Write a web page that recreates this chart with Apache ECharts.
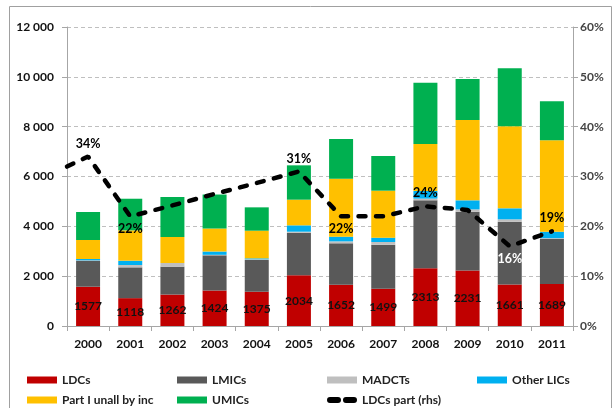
<!DOCTYPE html>
<html>
<head>
<meta charset="utf-8">
<script src="https://cdn.jsdelivr.net/npm/echarts@6/dist/echarts.min.js"></script>
<style>
  html, body { margin: 0; padding: 0; background: #fff; }
  #chart { width: 615px; height: 408px; }
</style>
</head>
<body>
<div id="chart"></div>
<script>
const years = ['2000', '2001', '2002', '2003', '2004', '2005', '2006', '2007', '2008', '2009', '2010', '2011']

// stacked values, bottom to top
const ldcs = [1577, 1118, 1262, 1424, 1375, 2034, 1652, 1499, 2313, 2231, 1661, 1689]
const lmics = [1043, 1236, 1119, 1413, 1273, 1711, 1665, 1765, 2730, 2357, 2525, 1816]
const madcts = [15, 94, 147, 20, 30, 40, 80, 107, 70, 93, 95, 20]
const otherLics = [54, 172, 0, 133, 38, 255, 188, 174, 304, 362, 441, 260]
const partUnall = [762, 1220, 1043, 922, 1109, 1030, 2327, 1886, 1886, 3223, 3291, 3666]
const umics = [1124, 1268, 1606, 1365, 937, 1378, 1592, 1391, 2462, 1646, 2328, 1566]

// LDCs share (rhs, %), line starts at the axis edge
const ldcShareStart = 32
const ldcShare = [34, 22, 24.2, 26.5, 28.7, 31, 22, 22, 24, 23.3, 16, 19]
const ldcShareLabels = ['34%', '22%', '', '', '', '31%', '22%', '', '24%', '', '16%', '19%']

const leftTicks = [0, 2000, 4000, 6000, 8000, 10000, 12000]

const chart = echarts.init(document.getElementById('chart'))

const font = 'Lato, "Liberation Sans", sans-serif'
const axisGray = '#a6a6a6'

const barSeries = (name, data, color, extra) => Object.assign({
  name,
  type: 'bar',
  stack: 'total',
  barWidth: 24,
  data,
  itemStyle: { color }
}, extra || {})

const labelPos = ['top', 'bottom', 'top', 'top', 'top', 'top', 'bottom', 'top', 'top', 'top', 'bottom', 'top']

const lineData = [[-0.5, ldcShareStart]].concat(ldcShare.map((v, i) => [i, v]))

// tiny points that only carry the % labels
const labelData = ldcShare.map((v, i) => ({
  value: [i, v],
  label: {
    show: true,
    formatter: ldcShareLabels[i],
    position: labelPos[i],
    offset: i === 0 ? [8, 0] : [0, 0],
    color: i === 10 ? '#fff' : '#000',
    fontWeight: 'bold',
    fontSize: 12.5,
    fontFamily: font,
    opacity: 1,
    textBorderWidth: 0
  }
})).filter((d, i) => ldcShareLabels[i] !== '')

const legendBase = (name, left, top) => ({
  data: [name],
  left,
  top,
  padding: 0,
  itemWidth: 30,
  itemHeight: 7,
  icon: 'rect',
  textStyle: { fontFamily: font, fontWeight: 'bold', fontSize: 12, color: '#222' }
})

const option = {
  animation: false,
  textStyle: { fontFamily: font },
  graphic: [{
    type: 'rect',
    shape: { x: 9.5, y: 6.5, width: 602, height: 420 },
    style: { fill: 'none', stroke: '#a0a0a0', lineWidth: 1 },
    silent: true
  }],
  grid: { left: 67, right: 42, top: 27, bottom: 82 },
  legend: [
    legendBase('LDCs', 27, 374),
    legendBase('LMICs', 177, 374),
    legendBase('MADCTs', 327, 374),
    legendBase('Other LICs', 477, 374),
    legendBase('Part I unall by inc', 27, 394),
    legendBase('UMICs', 177, 394),
    Object.assign(legendBase('LDCs part (rhs)', 327, 394), {
      icon: 'path://M3,0H11A3,3 0 0 1 11,6H3A3,3 0 0 1 3,0Z M19,0H27A3,3 0 0 1 27,6H19A3,3 0 0 1 19,0Z',
      itemHeight: 6,
      itemStyle: { color: '#000' }
    })
  ],
  xAxis: [{
    type: 'category',
    data: years,
    axisLine: { lineStyle: { color: axisGray } },
    axisTick: { show: true, length: 5, lineStyle: { color: axisGray } },
    axisLabel: { margin: 12, fontWeight: 'bold', fontSize: 12, color: '#111', fontFamily: font }
  }, {
    type: 'value',
    min: -0.5,
    max: 11.5,
    show: false
  }],
  yAxis: [{
    type: 'value',
    min: 0,
    max: 12000,
    interval: 2000,
    axisLine: { show: true, onZero: false, lineStyle: { color: axisGray } },
    axisTick: { show: true, length: 5, lineStyle: { color: axisGray } },
    axisLabel: {
      margin: 13,
      fontWeight: 'bold',
      fontSize: 12,
      color: '#111',
      fontFamily: font,
      formatter: v => leftTicks.includes(v) ? String(v).replace(/\B(?=(\d{3})+(?!\d))/g, ' ') : ''
    },
    splitLine: { show: true, lineStyle: { color: '#bfbfbf', type: [4, 3] } }
  }, {
    type: 'value',
    min: 0,
    max: 60,
    interval: 10,
    position: 'right',
    axisLine: { show: true, onZero: false, lineStyle: { color: axisGray } },
    axisTick: { show: true, length: 5, lineStyle: { color: axisGray } },
    axisLabel: { margin: 7, fontWeight: 'bold', fontSize: 12, color: '#444', fontFamily: font, formatter: '{value}%' },
    splitLine: { show: false }
  }],
  series: [
    barSeries('LDCs', ldcs, '#c00000', {
      label: { show: true, position: 'inside', color: '#111', fontWeight: 'bold', fontSize: 12, fontFamily: font }
    }),
    barSeries('LMICs', lmics, '#595959'),
    barSeries('MADCTs', madcts, '#bfbfbf'),
    barSeries('Other LICs', otherLics, '#00b0f0'),
    barSeries('Part I unall by inc', partUnall, '#ffc000'),
    barSeries('UMICs', umics, '#00b050'),
    {
      name: 'LDCs part (rhs)',
      type: 'line',
      xAxisIndex: 1,
      yAxisIndex: 1,
      data: lineData,
      symbol: 'none',
      itemStyle: { color: '#000' },
      lineStyle: { color: '#000', width: 4.5, type: [7, 10.5], cap: 'round' },
      z: 5
    },
    {
      name: 'share labels',
      type: 'scatter',
      xAxisIndex: 1,
      yAxisIndex: 1,
      data: labelData,
      symbolSize: 1,
      itemStyle: { color: '#000', opacity: 1 },
      label: { show: true, fontWeight: 'bold', fontSize: 12.5, fontFamily: font, distance: 6 },
      labelLayout: { hideOverlap: false },
      z: 6
    }
  ]
}

chart.setOption(option)
</script>
</body>
</html>
